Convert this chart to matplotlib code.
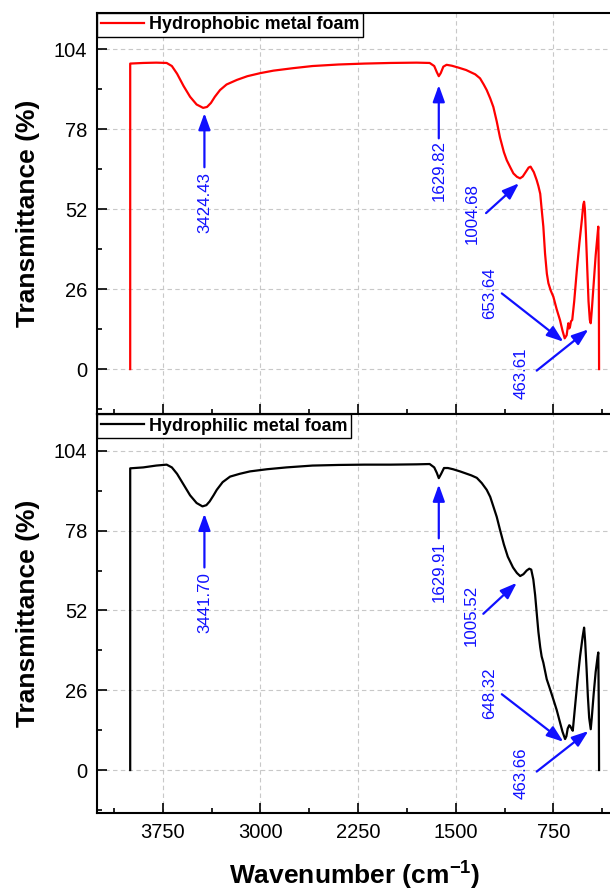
import numpy as np
import matplotlib
matplotlib.use("Agg")
import matplotlib.pyplot as plt
from matplotlib.ticker import MultipleLocator

plt.rcParams['font.family'] = ['Liberation Sans', 'DejaVu Sans']
plt.rcParams['mathtext.fontset'] = 'custom'
plt.rcParams['mathtext.rm'] = 'Liberation Sans'
plt.rcParams['mathtext.bf'] = 'Liberation Sans:bold'

# hydrophobic foam spectrum
wn_phobic = [4000, 4000, 3900, 3800, 3720, 3680, 3640, 3590, 3540, 3490, 3440, 3410,
             3380, 3350, 3310, 3260, 3180, 3100, 3000, 2900, 2750, 2600, 2400, 2200,
             2000, 1800, 1700, 1665, 1645, 1630, 1615, 1595, 1570, 1530, 1480, 1420,
             1390, 1350, 1313, 1285, 1262, 1235, 1211, 1185, 1160, 1130, 1108, 1080,
             1057, 1030, 1006, 985, 960, 940, 925, 900, 878, 865, 851, 840, 827, 814,
             800, 788, 770, 750, 725, 699, 680, 663, 648, 640, 635, 628, 622, 615,
             605, 590, 570, 550, 530, 520, 514, 508, 500, 490, 480, 470, 463, 455,
             440, 425, 410, 405, 401, 399]
tr_phobic = [0, 99.3, 99.5, 99.6, 99.5, 98.5, 96, 92, 88.5, 86, 84.9, 85.2,
             86.5, 88.5, 90.7, 92.5, 94, 95.2, 96.2, 97, 97.8, 98.5, 99, 99.3,
             99.5, 99.6, 99.5, 98.5, 96.5, 95.2, 96.2, 98.3, 98.9, 98.6, 98, 97.2,
             96.6, 95.8, 94.5, 92.5, 90.7, 88, 85.2, 80.5, 75.3, 70.5, 67.9, 65.5,
             63.6, 62.5, 62, 62.6, 64.2, 65.5, 65.8, 64, 61.4, 59.5, 57, 52, 46.3, 37.6,
             31, 27.9, 25.5, 23.5, 19.5, 15.9, 12.5, 10, 11, 13.5, 14.9, 13.2, 13.8, 15.5,
             16, 22, 32, 41, 49, 53.5, 54.4, 52, 44, 33, 22, 16, 14.9, 19,
             28, 37, 44, 46.3, 30, 0]

# hydrophilic foam spectrum
wn_philic = [4000, 4000, 3900, 3800, 3720, 3680, 3640, 3590, 3540, 3490, 3445, 3415,
             3390, 3360, 3335, 3290, 3233, 3160, 3080, 2950, 2800, 2600, 2400, 2200,
             2000, 1800, 1700, 1665, 1645, 1630, 1612, 1590, 1560, 1520, 1467, 1420,
             1380, 1338, 1300, 1262, 1235, 1211, 1185, 1160, 1130, 1100, 1060, 1030,
             1005, 980, 955, 935, 920, 904, 890, 878, 865, 851, 840, 827, 801, 775,
             750, 724, 699, 680, 660, 650, 640, 628, 622, 612, 601, 585, 565, 545,
             525, 514, 506, 495, 485, 475, 463, 455, 440, 425, 410, 405, 401, 399]
tr_philic = [0, 98.3, 98.6, 99.2, 99.5, 98.6, 96.5, 93, 89.5, 87, 85.9, 86.3,
             87.5, 89.5, 91.3, 93.8, 95.6, 96.5, 97.3, 98, 98.6, 99.2, 99.4, 99.5,
             99.5, 99.6, 99.7, 98.6, 96.8, 95.1, 96.5, 98.4, 98.4, 98, 97.3, 96.6,
             96, 95.2, 93.5, 91.3, 89, 85.9, 82.5, 78.3, 73.5, 69.5, 66, 64.2,
             63.2, 63.8, 65, 65.6, 65.3, 62.1, 57, 51.2, 45, 40, 37, 35, 29.6, 26.3,
             23, 19.5, 15.5, 12.5, 10.1, 11, 13.5, 14.6, 14.4, 13.6, 12.8, 20, 29, 37,
             43.5, 46.4, 42, 33, 24, 17, 13.3, 17, 25, 32, 37, 38.3, 20, 0]

peaks_phobic = ["3424.43", "1629.82", "1004.68", "653.64", "463.61"]
peaks_philic = ["3441.70", "1629.91", "1005.52", "648.32", "463.66"]

# label centre, arrow tail, arrow tip (data coords)
ann_phobic = [((3430, 54.1), (3430, 65.6), (3430, 83.2)),
              ((1630, 64.7), (1630, 75.0), (1630, 92.3)),
              ((1375, 50.4), (1267, 50.7), (1014, 60.4)),
              ((1236, 24.7), (1146, 24.6), (673, 8.9)),
              ((998, -1.3), (878, -0.5), (481, 12.9))]
ann_philic = [((3430, 54.6), (3430, 66.0), (3430, 83.5)),
              ((1630, 64.7), (1630, 75.5), (1630, 93.0)),
              ((1378, 50.4), (1288, 50.9), (1031, 61.0)),
              ((1236, 25.0), (1146, 24.7), (673, 9.2)),
              ((998, -0.9), (878, -0.5), (481, 12.7))]

fig = plt.figure(figsize=(6.1, 8.91), dpi=100)
# right edge of the frame runs just past the picture, as in the original crop
ax1 = fig.add_axes([97/610, 1-414/891, 516/610, 401.5/891])
ax2 = fig.add_axes([97/610, 1-813/891, 516/610, 399/891])


def style(ax, ylim):
	ax.set_xlim(4255, 292)
	ax.set_ylim(*ylim)
	ax.xaxis.set_major_locator(MultipleLocator(750))
	ax.xaxis.set_minor_locator(MultipleLocator(375))
	ax.set_yticks([0, 26, 52, 78, 104])
	ax.yaxis.set_minor_locator(MultipleLocator(13))
	ax.tick_params(which='both', direction='in', top=False, right=False, width=1.2,
	               labelsize=14.5)
	ax.tick_params(which='major', length=7, pad=7)
	ax.tick_params(which='minor', length=3.5)
	ax.grid(True, which='major', color='#c8c8c8', ls=(0, (4, 3)), lw=0.8)
	ax.set_axisbelow(True)
	for s in ax.spines.values():
		s.set_linewidth(1.5)
	ax.set_ylabel('Transmittance (%)', fontsize=19, fontweight='bold', labelpad=10)


def annotate(ax, labels, anns):
	for lab, (txt, tail, tip) in zip(labels, anns):
		ax.annotate('', xy=tip, xytext=tail,
		            arrowprops=dict(arrowstyle='-|>,head_length=0.5,head_width=0.18',
		                            color='#1010ff', lw=1.6, mutation_scale=20,
		                            shrinkA=0, shrinkB=0))
		ax.text(txt[0], txt[1], lab, rotation=90, color='#1010ff', fontsize=12.2,
		        ha='center', va='center')


style(ax1, (-14.6, 115.9))
style(ax2, (-14.0, 116.0))

ax1.plot(wn_phobic, tr_phobic, color='red', lw=1.6, label='Hydrophobic metal foam')
ax2.plot(wn_philic, tr_philic, color='black', lw=1.6, label='Hydrophilic metal foam')

annotate(ax1, peaks_phobic, ann_phobic)
annotate(ax2, peaks_philic, ann_philic)

ax1.tick_params(labelbottom=False)
ax2.set_xlabel('Wavenumber (cm$^{\\mathbf{-1}}$)', fontsize=19, fontweight='bold', labelpad=12)

for ax in (ax1, ax2):
	leg = ax.legend(loc='upper left', borderaxespad=0, borderpad=0.2, handlelength=2.4,
	                handletextpad=0.3, fancybox=False, framealpha=1,
	                prop={'weight': 'bold', 'size': 12.9})
	leg.get_frame().set_edgecolor('black')
	leg.get_frame().set_linewidth(1.0)

fig.savefig('out.png', dpi=100)
